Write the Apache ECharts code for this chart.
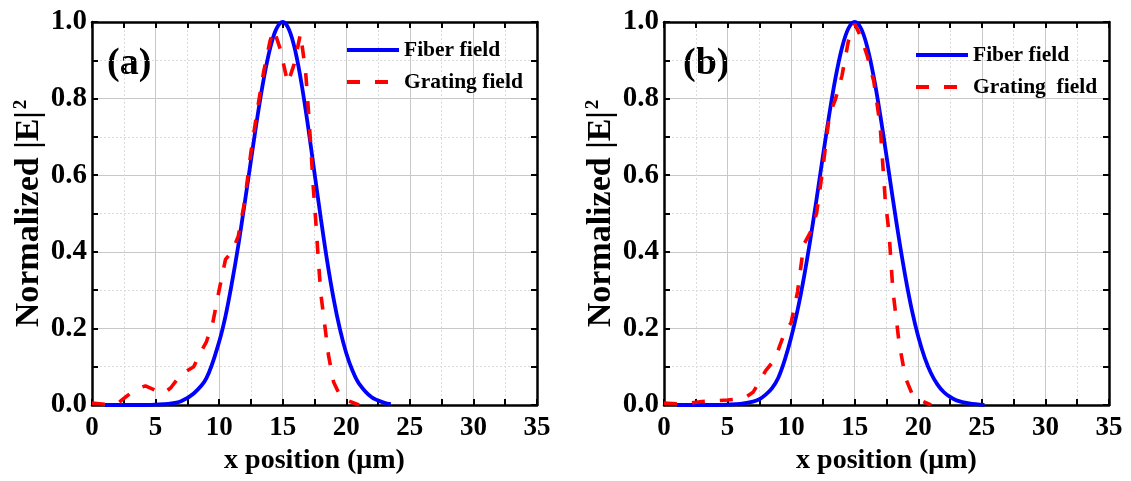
<!DOCTYPE html>
<html>
<head>
<meta charset="utf-8">
<script src="https://cdn.jsdelivr.net/npm/echarts@6/dist/echarts.min.js"></script>
<style>
html,body{margin:0;padding:0;background:#fff;}
#c{width:1131px;height:481px;}
</style>
</head>
<body>
<div id="c"></div>
<script>
// ---- data ----
const panelLabels = ['(a)', '(b)'];
const xAxisTitle = 'x position (\u03bcm)';
const legendNamesA = ['Fiber field', 'Grating field'];
const legendNamesB = ['Fiber field', 'Grating  field'];

const fiberA_x = [1,2,3,4,5,6,7,8,9,10,10.5,11,11.5,12,12.5,13,13.5,14,14.5,15,15.5,16,16.5,17,17.5,18,18.5,19,19.5,20,20.5,21,22,23,23.5];
const fiberA_y = [0,0,0,0,0.001,0.003,0.010,0.030,0.070,0.165,0.232,0.318,0.415,0.525,0.638,0.750,0.850,0.930,0.982,1.0,0.980,0.923,0.835,0.726,0.606,0.487,0.375,0.278,0.198,0.135,0.089,0.056,0.020,0.006,0.002];

const gratingA_x = [0,1,2,2.5,3,3.5,4.2,5,5.6,6.2,7,8,8.5,9,9.5,10,10.5,11,11.5,12,12.5,13,13.5,14,14.3,14.8,15.4,15.9,16.4,16.8,17,17.2,17.4,17.6,17.8,18,18.3,18.6,19,19.5,20,21];
const gratingA_y = [0.005,0.002,0.003,0.017,0.030,0.042,0.050,0.038,0.030,0.045,0.080,0.100,0.135,0.165,0.215,0.300,0.380,0.400,0.440,0.530,0.660,0.770,0.870,0.950,0.980,0.930,0.840,0.890,0.970,0.870,0.780,0.680,0.570,0.480,0.380,0.290,0.210,0.130,0.060,0.025,0.013,0.0];

const fiberB_x = [1,2,3,4,5,6,7,7.5,8,8.5,9,9.5,10,10.5,11,11.5,12,12.5,13,13.5,14,14.5,15,15.5,16,16.5,17,17.5,18,18.5,19,19.5,20,20.5,21,21.5,22,22.5,23,24,25.2];
const fiberB_y = [0,0,0,0,0.001,0.003,0.009,0.015,0.027,0.044,0.072,0.118,0.176,0.247,0.332,0.430,0.538,0.650,0.759,0.856,0.933,0.983,1.0,0.983,0.933,0.856,0.759,0.650,0.538,0.430,0.332,0.247,0.178,0.124,0.083,0.054,0.034,0.021,0.012,0.004,0.0];

const gratingB_x = [0,1,2,3,4,5,6,6.5,7,7.5,8,8.5,9,9.5,10,10.5,11,11.5,12,12.5,13,13.5,14,14.5,15,15.5,16,16.5,17,17.4,17.7,18,18.5,19,19.5,20,21];
const gratingB_y = [0.005,0.003,0.005,0.009,0.011,0.013,0.016,0.022,0.033,0.060,0.090,0.110,0.145,0.190,0.215,0.295,0.420,0.450,0.500,0.620,0.755,0.800,0.860,0.950,0.995,0.960,0.910,0.845,0.730,0.535,0.450,0.300,0.160,0.070,0.030,0.015,0.0];

const yTickDecimals = 1;

// ---- chart ----
const FONT = '"Liberation Serif", "Times New Roman", serif';
const pair = (xs, ys) => xs.map((x, i) => [x, ys[i]]);

const grids = [
  {left: 92, top: 22, width: 445, height: 383},
  {left: 664, top: 22, width: 445, height: 383}
];

function bottomX(gi) {
  return {
    type: 'value', gridIndex: gi, position: 'bottom', min: 0, max: 35, interval: 5,
    name: xAxisTitle, nameLocation: 'middle', nameGap: 40,
    nameTextStyle: {fontFamily: FONT, fontWeight: 'bold', fontSize: 28, color: '#000'},
    axisLine: {show: true, onZero: false, lineStyle: {color: '#000', width: 2.5}},
    axisTick: {show: true, inside: true, length: 6, lineStyle: {color: '#000', width: 2}},
    minorTick: {show: true, splitNumber: 2, length: 6, lineStyle: {color: '#000', width: 2}},
    axisLabel: {fontFamily: FONT, fontWeight: 'bold', fontSize: 27, color: '#000', margin: 10},
    splitLine: {show: true, lineStyle: {color: '#c8c8c8', width: 1}},
    minorSplitLine: {show: true, lineStyle: {color: '#dcdcdc', width: 1, type: [2, 2]}}
  };
}
function topX(gi) {
  return {
    type: 'value', gridIndex: gi, position: 'top', min: 0, max: 35, interval: 5,
    axisLine: {show: true, onZero: false, lineStyle: {color: '#000', width: 2.5}},
    axisTick: {show: true, inside: true, length: 6, lineStyle: {color: '#000', width: 2}},
    minorTick: {show: true, splitNumber: 2, length: 6, lineStyle: {color: '#000', width: 2}},
    axisLabel: {show: false}, splitLine: {show: false}
  };
}
function leftY(gi) {
  return {
    type: 'value', gridIndex: gi, position: 'left', min: 0, max: 1, interval: 0.2,
    name: 'Normalized |E|{sup|2}', nameLocation: 'middle', nameGap: 46,
    nameTextStyle: {fontFamily: FONT, fontWeight: 'bold', fontSize: 34, color: '#000',
      rich: {sup: {fontFamily: FONT, fontWeight: 'bold', fontSize: 19, color: '#000', verticalAlign: 'top', padding: [0, 0, 14, 2]}}},
    axisLine: {show: true, onZero: false, lineStyle: {color: '#000', width: 2.5}},
    axisTick: {show: true, inside: true, length: 6, lineStyle: {color: '#000', width: 2}},
    minorTick: {show: true, splitNumber: 2, length: 6, lineStyle: {color: '#000', width: 2}},
    axisLabel: {fontFamily: FONT, fontWeight: 'bold', fontSize: 29, color: '#000', margin: 5,
      formatter: v => v.toFixed(yTickDecimals)},
    splitLine: {show: true, lineStyle: {color: '#c8c8c8', width: 1}},
    minorSplitLine: {show: true, lineStyle: {color: '#dcdcdc', width: 1, type: [2, 2]}}
  };
}
function rightY(gi) {
  return {
    type: 'value', gridIndex: gi, position: 'right', min: 0, max: 1, interval: 0.2,
    axisLine: {show: true, onZero: false, lineStyle: {color: '#000', width: 2.5}},
    axisTick: {show: true, inside: true, length: 6, lineStyle: {color: '#000', width: 2}},
    minorTick: {show: true, splitNumber: 2, length: 6, lineStyle: {color: '#000', width: 2}},
    axisLabel: {show: false}, splitLine: {show: false}
  };
}

const blueStyle = {color: '#0000ff', width: 3.8, type: 'solid'};
const redStyle = {color: '#ff0000', width: 3.6, type: [13, 15]};

function lineSeries(name, xi, yi, data, style, smooth) {
  return {
    type: 'line', name: name, xAxisIndex: xi, yAxisIndex: yi, data: data,
    symbol: 'none', showSymbol: false, smooth: smooth,
    lineStyle: style, itemStyle: {color: style.color}, z: 3
  };
}

const legendText = {fontFamily: FONT, fontWeight: 'bold', fontSize: 21.5, color: '#000'};
const legendItem = {color: 'transparent', borderColor: 'transparent', borderWidth: 0, opacity: 0};
const legendLine = {width: 4};

const option = {
  animation: false,
  backgroundColor: '#fff',
  grid: grids,
  xAxis: [bottomX(0), topX(0), bottomX(1), topX(1)],
  yAxis: [leftY(0), rightY(0), leftY(1), rightY(1)],
  legend: [
    {data: legendNamesA, left: 345, top: 39, padding: 0, orient: 'vertical', itemWidth: 52, itemHeight: 14, itemGap: 10,
     textStyle: legendText, selectedMode: false, itemStyle: legendItem, lineStyle: legendLine},
    {data: legendNamesB, left: 914, top: 44, padding: 0, orient: 'vertical', itemWidth: 52, itemHeight: 14, itemGap: 10,
     textStyle: legendText, selectedMode: false, itemStyle: legendItem, lineStyle: legendLine}
  ],
  graphic: [
    {type: 'text', left: 107, top: 45, style: {text: panelLabels[0], font: 'bold 38px ' + FONT, fill: '#000'}},
    {type: 'text', left: 683, top: 45, style: {text: panelLabels[1], font: 'bold 38px ' + FONT, fill: '#000'}}
  ],
  series: [
    lineSeries(legendNamesA[0], 0, 0, pair(fiberA_x, fiberA_y), blueStyle, 0.35),
    lineSeries(legendNamesA[1], 0, 0, pair(gratingA_x, gratingA_y), redStyle, false),
    lineSeries(legendNamesB[0], 2, 2, pair(fiberB_x, fiberB_y), blueStyle, 0.35),
    lineSeries(legendNamesB[1], 2, 2, pair(gratingB_x, gratingB_y), redStyle, false)
  ]
};

const chart = echarts.init(document.getElementById('c'), null, {renderer: 'canvas'});
chart.setOption(option);
</script>
</body>
</html>
